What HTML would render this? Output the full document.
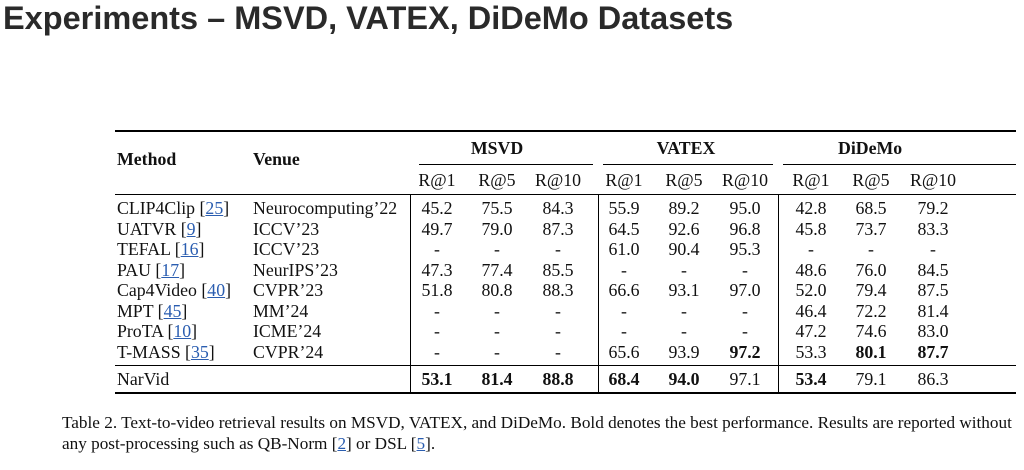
<!DOCTYPE html>
<html><head><meta charset="utf-8"><style>
body{margin:0;width:1024px;height:470px;background:#fff;position:relative;overflow:hidden;font-family:"Liberation Serif",serif;font-size:17.8px;color:#111}
.t{position:absolute;line-height:18px;white-space:nowrap}
.c{position:absolute;line-height:18px;width:60px;text-align:center;margin-left:-30px}
.b{font-weight:bold}
.r{position:absolute;background:#000}
a{color:#2a5db0;text-decoration:underline}
h1{position:absolute;left:3px;top:0px;margin:0;font:bold 32.5px "Liberation Sans",sans-serif;color:#2a2a2a;letter-spacing:0px;line-height:36px}
</style></head><body>
<h1>Experiments – MSVD, VATEX, DiDeMo Datasets</h1>
<div class="r" style="left:115px;top:130px;width:901px;height:2px"></div>
<div class="r" style="left:419px;top:164px;width:174px;height:1px"></div>
<div class="r" style="left:603px;top:164px;width:170px;height:1px"></div>
<div class="r" style="left:783px;top:164px;width:233px;height:1px"></div>
<div class="r" style="left:115px;top:194px;width:901px;height:1px"></div>
<div class="r" style="left:115px;top:365px;width:901px;height:1px"></div>
<div class="r" style="left:115px;top:392px;width:901px;height:2px"></div>
<div class="r" style="left:410px;top:195px;width:1px;height:197px"></div>
<div class="r" style="left:598px;top:195px;width:1px;height:197px"></div>
<div class="r" style="left:778px;top:195px;width:1px;height:197px"></div>
<div class="t b" style="left:117px;top:150px">Method</div>
<div class="t b" style="left:253px;top:150px">Venue</div>
<div class="c b" style="left:497px;top:139px">MSVD</div>
<div class="c b" style="left:686px;top:139px">VATEX</div>
<div class="c b" style="left:868px;top:139px">DiDeMo</div>
<div class="c" style="left:437px;top:171px">R@1</div><div class="c" style="left:497px;top:171px">R@5</div><div class="c" style="left:558px;top:171px">R@10</div>
<div class="c" style="left:624px;top:171px">R@1</div><div class="c" style="left:684px;top:171px">R@5</div><div class="c" style="left:745px;top:171px">R@10</div>
<div class="c" style="left:811px;top:171px">R@1</div><div class="c" style="left:871px;top:171px">R@5</div><div class="c" style="left:933px;top:171px">R@10</div>

<div class="t" style="left:117px;top:199px">CLIP4Clip [<a>25</a>]</div><div class="t" style="left:253px;top:199px">Neurocomputing’22</div>
<div class="c" style="left:437px;top:199px">45.2</div><div class="c" style="left:497px;top:199px">75.5</div><div class="c" style="left:558px;top:199px">84.3</div><div class="c" style="left:624px;top:199px">55.9</div><div class="c" style="left:684px;top:199px">89.2</div><div class="c" style="left:745px;top:199px">95.0</div><div class="c" style="left:811px;top:199px">42.8</div><div class="c" style="left:871px;top:199px">68.5</div><div class="c" style="left:933px;top:199px">79.2</div>

<div class="t" style="left:117px;top:220px">UATVR [<a>9</a>]</div><div class="t" style="left:253px;top:220px">ICCV’23</div>
<div class="c" style="left:437px;top:220px">49.7</div><div class="c" style="left:497px;top:220px">79.0</div><div class="c" style="left:558px;top:220px">87.3</div><div class="c" style="left:624px;top:220px">64.5</div><div class="c" style="left:684px;top:220px">92.6</div><div class="c" style="left:745px;top:220px">96.8</div><div class="c" style="left:811px;top:220px">45.8</div><div class="c" style="left:871px;top:220px">73.7</div><div class="c" style="left:933px;top:220px">83.3</div>

<div class="t" style="left:117px;top:240px">TEFAL [<a>16</a>]</div><div class="t" style="left:253px;top:240px">ICCV’23</div>
<div class="c" style="left:437px;top:240px">-</div><div class="c" style="left:497px;top:240px">-</div><div class="c" style="left:558px;top:240px">-</div><div class="c" style="left:624px;top:240px">61.0</div><div class="c" style="left:684px;top:240px">90.4</div><div class="c" style="left:745px;top:240px">95.3</div><div class="c" style="left:811px;top:240px">-</div><div class="c" style="left:871px;top:240px">-</div><div class="c" style="left:933px;top:240px">-</div>

<div class="t" style="left:117px;top:261px">PAU [<a>17</a>]</div><div class="t" style="left:253px;top:261px">NeurIPS’23</div>
<div class="c" style="left:437px;top:261px">47.3</div><div class="c" style="left:497px;top:261px">77.4</div><div class="c" style="left:558px;top:261px">85.5</div><div class="c" style="left:624px;top:261px">-</div><div class="c" style="left:684px;top:261px">-</div><div class="c" style="left:745px;top:261px">-</div><div class="c" style="left:811px;top:261px">48.6</div><div class="c" style="left:871px;top:261px">76.0</div><div class="c" style="left:933px;top:261px">84.5</div>

<div class="t" style="left:117px;top:281px">Cap4Video [<a>40</a>]</div><div class="t" style="left:253px;top:281px">CVPR’23</div>
<div class="c" style="left:437px;top:281px">51.8</div><div class="c" style="left:497px;top:281px">80.8</div><div class="c" style="left:558px;top:281px">88.3</div><div class="c" style="left:624px;top:281px">66.6</div><div class="c" style="left:684px;top:281px">93.1</div><div class="c" style="left:745px;top:281px">97.0</div><div class="c" style="left:811px;top:281px">52.0</div><div class="c" style="left:871px;top:281px">79.4</div><div class="c" style="left:933px;top:281px">87.5</div>

<div class="t" style="left:117px;top:302px">MPT [<a>45</a>]</div><div class="t" style="left:253px;top:302px">MM’24</div>
<div class="c" style="left:437px;top:302px">-</div><div class="c" style="left:497px;top:302px">-</div><div class="c" style="left:558px;top:302px">-</div><div class="c" style="left:624px;top:302px">-</div><div class="c" style="left:684px;top:302px">-</div><div class="c" style="left:745px;top:302px">-</div><div class="c" style="left:811px;top:302px">46.4</div><div class="c" style="left:871px;top:302px">72.2</div><div class="c" style="left:933px;top:302px">81.4</div>

<div class="t" style="left:117px;top:322px">ProTA [<a>10</a>]</div><div class="t" style="left:253px;top:322px">ICME’24</div>
<div class="c" style="left:437px;top:322px">-</div><div class="c" style="left:497px;top:322px">-</div><div class="c" style="left:558px;top:322px">-</div><div class="c" style="left:624px;top:322px">-</div><div class="c" style="left:684px;top:322px">-</div><div class="c" style="left:745px;top:322px">-</div><div class="c" style="left:811px;top:322px">47.2</div><div class="c" style="left:871px;top:322px">74.6</div><div class="c" style="left:933px;top:322px">83.0</div>

<div class="t" style="left:117px;top:343px">T-MASS [<a>35</a>]</div><div class="t" style="left:253px;top:343px">CVPR’24</div>
<div class="c" style="left:437px;top:343px">-</div><div class="c" style="left:497px;top:343px">-</div><div class="c" style="left:558px;top:343px">-</div><div class="c" style="left:624px;top:343px">65.6</div><div class="c" style="left:684px;top:343px">93.9</div><div class="c b" style="left:745px;top:343px">97.2</div><div class="c" style="left:811px;top:343px">53.3</div><div class="c b" style="left:871px;top:343px">80.1</div><div class="c b" style="left:933px;top:343px">87.7</div>

<div class="t" style="left:117px;top:370px">NarVid</div>
<div class="c b" style="left:437px;top:370px">53.1</div><div class="c b" style="left:497px;top:370px">81.4</div><div class="c b" style="left:558px;top:370px">88.8</div><div class="c b" style="left:624px;top:370px">68.4</div><div class="c b" style="left:684px;top:370px">94.0</div><div class="c" style="left:745px;top:370px">97.1</div><div class="c b" style="left:811px;top:370px">53.4</div><div class="c" style="left:871px;top:370px">79.1</div><div class="c" style="left:933px;top:370px">86.3</div>

<div class="t" style="left:62px;top:414px;font-size:17.2px">Table 2. Text-to-video retrieval results on MSVD, VATEX, and DiDeMo. Bold denotes the best performance. Results are reported without</div>
<div class="t" style="left:62px;top:435px;font-size:17.2px">any post-processing such as QB-Norm [<a>2</a>] or DSL [<a>5</a>].</div>
</body></html>
